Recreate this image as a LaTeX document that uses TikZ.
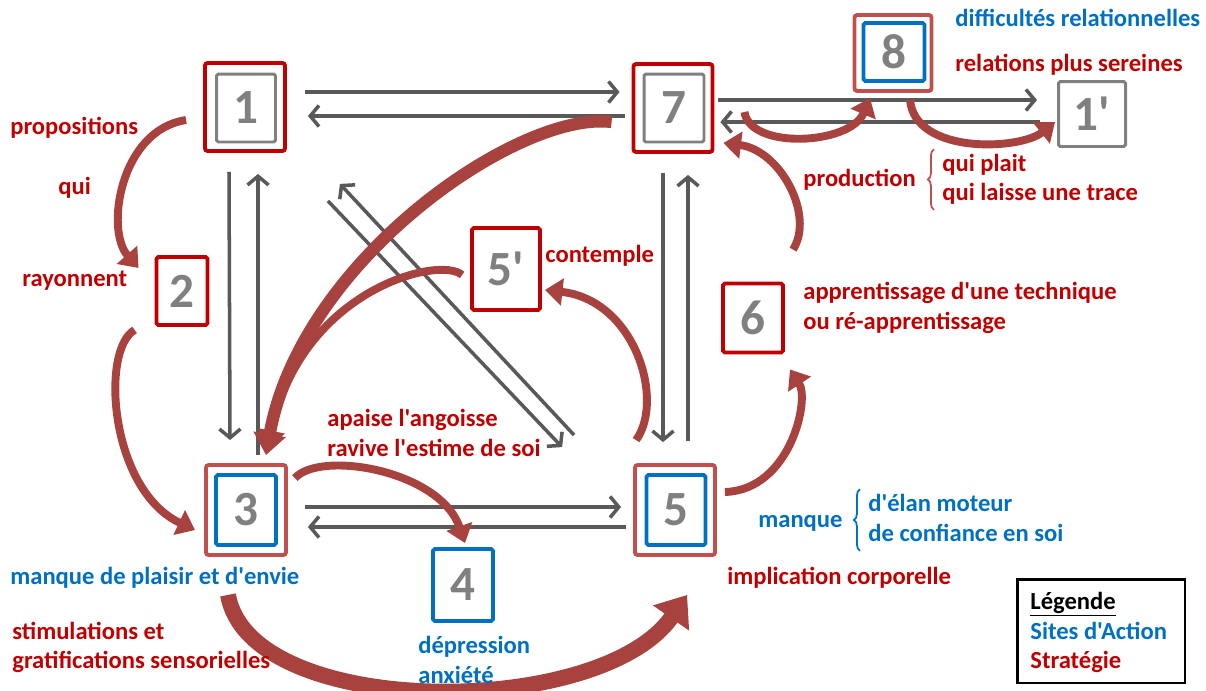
\documentclass[tikz,border=0pt]{standalone}
\usepackage{fontspec}
\setmainfont{Carlito}[Ligatures=TeXOff]
\usetikzlibrary{positioning, arrows.meta, decorations.pathreplacing, calc}
\definecolor{clrstrategy}{HTML}{C00000}
\definecolor{clrsite}{HTML}{0070C0}
\definecolor{clrnum}{HTML}{808080}
\definecolor{clrlink}{HTML}{595959}
\definecolor{clrframe}{HTML}{C0504D}
\definecolor{clrcurve}{HTML}{A8423F}
\definecolor{clrlegend}{HTML}{000000}

\begin{document}
\begin{tikzpicture}[
    x=0.02cm, y=-0.02cm,
    every node/.style={font=\bfseries\fontsize{14}{16.5}\selectfont},
    outerbox/.style={draw=#1, line width=2.2pt, rounded corners=1.5pt, inner sep=0pt},
    numbox/.style={draw=#1, line width=2.2pt, rounded corners=1pt, inner sep=0pt,
                   font=\bfseries\fontsize{28}{30}\selectfont, text=clrnum},
    link/.style={-{Straight Barb[length=5pt, width=12pt]}, color=clrlink, line width=2pt},
    strat/.style={-{Triangle[length=10pt, width=15pt]}, color=clrcurve, line width=4.5pt},
    label/.style={anchor=west, inner sep=0pt, text height=10pt, text depth=3pt},
    brace/.style={decorate, decoration={brace, amplitude=3.5pt}, line width=1pt},
]
\useasboundingbox (0,0) rectangle (1206,690);
% boxes
\node[outerbox=clrstrategy, minimum width=1.6cm, minimum height=1.76cm] (n_1) at (245,107) {};
\node[numbox=clrnum, line width=1.7pt, minimum width=1.18cm, minimum height=1.36cm] (n_1in) at (246,108) {1};
\node[outerbox=clrstrategy, minimum width=1.58cm, minimum height=1.76cm] (n_7) at (673,108) {};
\node[numbox=clrnum, line width=1.7pt, minimum width=1.2cm, minimum height=1.36cm] (n_7in) at (674,108) {7};
\node[outerbox=clrframe, minimum width=1.6cm, minimum height=1.8cm] (n_3) at (246,510) {};
\node[numbox=clrsite, minimum width=1.2cm, minimum height=1.4cm] (n_3in) at (246,510) {3};
\node[outerbox=clrframe, minimum width=1.6cm, minimum height=1.8cm] (n_5) at (675,510) {};
\node[numbox=clrsite, minimum width=1.18cm, minimum height=1.4cm] (n_5in) at (676,510) {5};
\node[outerbox=clrframe, minimum width=1.54cm, minimum height=1.52cm] (n_8) at (893,53) {};
\node[numbox=clrsite, minimum width=1.22cm, minimum height=1.16cm] (n_8in) at (894,52) {8};
\node[numbox=clrnum, line width=1.7pt, minimum width=1.34cm, minimum height=1.3cm] (n_1p) at (1092,114) {1'};
\node[numbox=clrstrategy, minimum width=1.02cm, minimum height=1.36cm] (n_2) at (182,291) {2};
\node[numbox=clrstrategy, minimum width=1.36cm, minimum height=1.64cm] (n_5p) at (506,269) {5'};
\node[numbox=clrstrategy, minimum width=1.2cm, minimum height=1.38cm] (n_6) at (753,318) {6};
\node[numbox=clrsite, minimum width=1.2cm, minimum height=1.44cm] (n_4) at (463,585) {4};
% straight links
\draw[link] ([shift={(18,-15)}]n_1.east) -- ([shift={(-12,-16)}]n_7.west);
\draw[link] ([shift={(-7,8)}]n_7.west) -- ([shift={(21,9)}]n_1.east);
\draw[link] ([shift={(4,-8)}]n_7.east) -- ([shift={(-20,-14)}]n_1p.west);
\draw[link] ([shift={(-17,8)}]n_1p.west) -- ([shift={(6,14)}]n_7.east);
\draw[link] ([shift={(-16,19)}]n_1.south) -- ([shift={(-16,-23)}]n_3.north);
\draw[link] ([shift={(12,-8)}]n_3.north) -- ([shift={(13,21)}]n_1.south);
\draw[link] ([shift={(-10,19)}]n_7.south) -- ([shift={(-12,-21)}]n_5.north);
\draw[link] ([shift={(13,-22)}]n_5.north) -- ([shift={(15,21)}]n_7.south);
\draw[link] ([shift={(17,-3)}]n_3.east) -- ([shift={(-12,-3)}]n_5.west);
\draw[link] ([shift={(-7,17)}]n_5.west) -- ([shift={(20,17)}]n_3.east);
\draw[link] ([shift={(41,48)}]n_1.south east) -- ([shift={(-71,-16)}]n_5.north west);
\draw[link] ([shift={(-59,-28)}]n_5.north west) -- ([shift={(53,31)}]n_1.south east);
% curved strategy arrows
\draw[strat] ([shift={(-17,13)}]n_1.west) .. controls (120,130) and (105,230) .. ([shift={(-16,-23)}]n_2.west);
\draw[strat] ([shift={(-20,3)}]n_2.south west) .. controls (100,350) and (110,490) .. ([shift={(-9,20)}]n_3.west);
\draw[strat, line width=7pt, -{Triangle[length=12pt, width=18pt]}] ([shift={(-20,14)}]n_7.west) .. controls (520,110) and (300,260) .. ([shift={(20,-8)}]n_3.north);
\draw[strat] ([shift={(-8,6)}]n_5p.west) .. controls (440,255) and (300,290) .. ([shift={(22,-15)}]n_3.north);
\draw[strat] ([shift={(3,-23)}]n_5.north west) .. controls (665,400) and (635,300) .. ([shift={(3,21)}]n_5p.east);
\draw[strat] ([shift={(7,15)}]n_3.north east) .. controls (320,450) and (440,470) .. ([shift={(2,-4)}]n_4.north);
\draw[strat, line width=9pt, -{Triangle[length=16pt, width=24pt]}] ([shift={(-18,38)}]n_3.south) .. controls (250,720) and (600,720) .. ([shift={(54,38)}]n_5.south west);
\draw[strat] ([shift={(8,-18)}]n_5.east) .. controls (790,490) and (810,400) .. ([shift={(37,15)}]n_6.south);
\draw[strat] ([shift={(40,-32)}]n_6.north) .. controls (815,215) and (780,150) .. ([shift={(9,35)}]n_7.east);
\draw[strat] ([shift={(30,4)}]n_7.east) .. controls (750,150) and (850,145) .. ([shift={(-23,5)}]n_8.south);
\draw[strat] ([shift={(17,7)}]n_8.south) .. controls (915,155) and (1020,150) .. ([shift={(-2,8)}]n_1p.west);
% labels
\node[label, text=clrstrategy] (t_prop) at (10,128) {propositions};
\node[label, text=clrstrategy] (t_qui) at (58,188) {qui};
\node[label, text=clrstrategy] (t_ray) at (22,280) {rayonnent};
\node[label, text=clrsite] (t_plaisir) at (10,578) {manque de plaisir et d'envie};
\node[label, text=clrstrategy] (t_stim) at (12,633) {stimulations et};
\node[label, text=clrstrategy] (t_grat) at (12,662) {gratifications sensorielles};
\node[label, text=clrsite] (t_dep) at (418,647) {dépression};
\node[label, text=clrsite] (t_anx) at (418,677) {anxiété};
\node[label, text=clrstrategy] (t_apaise) at (327,420) {apaise l'angoisse};
\node[label, text=clrstrategy] (t_ravive) at (327,450) {ravive l'estime de soi};
\node[label, text=clrstrategy] (t_contemple) at (545,256) {contemple};
\node[label, text=clrstrategy] (t_appr) at (803,293) {apprentissage d'une technique};
\node[label, text=clrstrategy] (t_reappr) at (803,323) {ou ré-apprentissage};
\node[label, text=clrstrategy] (t_impl) at (727,578) {implication corporelle};
\node[label, text=clrsite] (t_manque) at (758,521) {manque};
\node[label, text=clrsite] (t_elan) at (868,505) {d'élan moteur};
\node[label, text=clrsite] (t_conf) at (868,535) {de confiance en soi};
\node[label, text=clrstrategy] (t_prod) at (803,180) {production};
\node[label, text=clrstrategy] (t_plait) at (942,165) {qui plait};
\node[label, text=clrstrategy] (t_trace) at (942,194) {qui laisse une trace};
\node[label, text=clrsite] (t_diff) at (955,20) {difficultés relationnelles};
\node[label, text=clrstrategy] (t_serein) at (955,65) {relations plus sereines};
\draw[brace, color=clrsite] ([shift={(-8,4)}]t_conf.south west) -- ([shift={(-8,-4)}]t_elan.north west);
\draw[brace, color=clrframe] ([shift={(-8,4)}]t_trace.south west) -- ([shift={(-8,-4)}]t_plait.north west);
% legend
\node[draw=clrlegend, line width=1.7pt, minimum width=3.36cm, minimum height=2.08cm, inner sep=0pt] (g_legend) at (1101,631) {};
\node[label, text=clrlegend] (t_leg) at (1030,603) {\underline{Légende}};
\node[label, text=clrsite] (t_sites) at (1030,633) {Sites d'Action};
\node[label, text=clrstrategy] (t_strat) at (1030,662) {Stratégie};
\end{tikzpicture}
\end{document}
